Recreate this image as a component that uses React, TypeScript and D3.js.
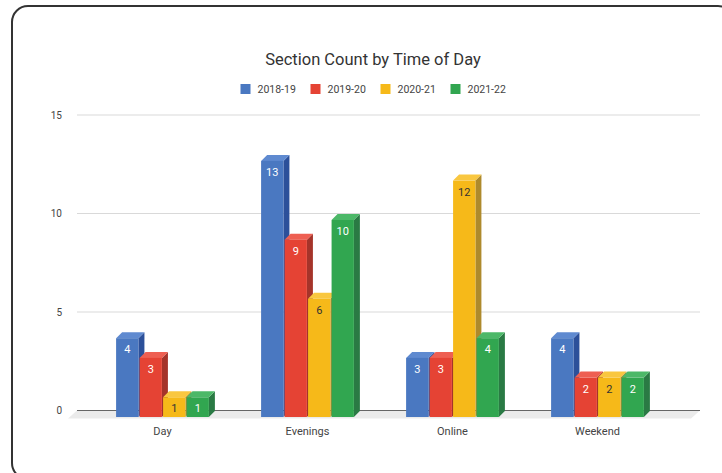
import React from "react";
import * as d3 from "d3";

const categories = ["Day", "Evenings", "Online", "Weekend"];
const seriesNames = ["2018-19", "2019-20", "2020-21", "2021-22"];
const values2018 = [4, 13, 3, 4];
const values2019 = [3, 9, 3, 2];
const values2020 = [1, 6, 12, 2];
const values2021 = [1, 10, 4, 2];
const yTicks = [0, 5, 10, 15];

const seriesValues = [values2018, values2019, values2020, values2021];

// front / side / top shades per series
const palette = [
  { front: "#4a78c1", side: "#2c509a", top: "#5f8ad0", label: "#ffffff" },
  { front: "#e54334", side: "#a5342a", top: "#ee5f52", label: "#ffffff" },
  { front: "#f6b919", side: "#ae8a2c", top: "#f9c740", label: "#333333" },
  { front: "#31a650", side: "#2a7a44", top: "#4cb868", label: "#ffffff" },
];

const W = 722;
const H = 473;
const FONT = "Roboto, 'Liberation Sans', Arial, sans-serif";

// 3D geometry
const floorDx = 9;
const floorDy = 8;
const barDx = 6;
const barDy = 6;

const backX0 = 77;
const backX1 = 700;
const backBase = 410.5;
const frontBase = 417;

export default function App() {
  const y = d3.scaleLinear().domain([0, 15]).range([0, 15 * 19.7]);

  const x0 = d3
    .scaleBand<string>()
    .domain(categories)
    .range([backX0 - floorDx, backX1 - floorDx + 1])
    .paddingInner(0.36)
    .paddingOuter(0.3317);

  const x1 = d3
    .scaleBand<string>()
    .domain(seriesNames)
    .range([0, x0.bandwidth()])
    .paddingInner(0.05);

  const legendItemW = 70;
  const legendStart = 373 - (legendItemW * 4 - 15) / 2;

  return (
    <svg
      width={W}
      height={H}
      style={{ position: "absolute", left: 0, top: 0, background: "#ffffff" }}
      fontFamily={FONT}
    >
      <rect
        x={12}
        y={6}
        width={722}
        height={473}
        rx={16}
        ry={16}
        fill="#ffffff"
        stroke="#333333"
        strokeWidth={2}
      />

      <text x={373} y={65} textAnchor="middle" fontSize={16.5} fill="#333333">
        Section Count by Time of Day
      </text>

      {seriesNames.map((name, i) => {
        const lx = legendStart + i * legendItemW;
        return (
          <g key={name}>
            <rect x={lx} y={84} width={10} height={10} fill={palette[i].front} />
            <text x={lx + 17} y={93} fontSize={10.5} fill="#444444">
              {name}
            </text>
          </g>
        );
      })}

      {/* gridlines along the back wall */}
      {yTicks.map((t) => (
        <g key={t}>
          {t > 0 && (
            <line
              x1={backX0}
              x2={backX1}
              y1={backBase - y(t)}
              y2={backBase - y(t)}
              stroke="#d9d9d9"
              strokeWidth={1}
            />
          )}
          <text
            x={62}
            y={backBase - y(t) + 3.5}
            textAnchor="end"
            fontSize={10}
            fill="#444444"
          >
            {t}
          </text>
        </g>
      ))}

      {/* floor */}
      <polygon
        points={`${backX0},${backBase} ${backX1},${backBase} ${backX1 - floorDx},${backBase + floorDy} ${backX0 - floorDx},${backBase + floorDy}`}
        fill="#ebebeb"
      />
      <line
        x1={backX0}
        x2={backX1}
        y1={backBase}
        y2={backBase}
        stroke="#666666"
        strokeWidth={1.2}
      />

      {categories.map((cat, ci) => {
        const gx = x0(cat) ?? 0;
        return (
          <g key={cat}>
            {seriesNames.map((s, si) => {
              const v = seriesValues[si][ci];
              const bx = gx + (x1(s) ?? 0);
              const bw = x1.bandwidth();
              const top = frontBase - y(v);
              const c = palette[si];
              return (
                <g key={s}>
                  <polygon
                    points={`${bx + bw},${top} ${bx + bw + barDx},${top - barDy} ${bx + bw + barDx},${frontBase - barDy} ${bx + bw},${frontBase}`}
                    fill={c.side}
                  />
                  <polygon
                    points={`${bx},${top} ${bx + barDx},${top - barDy} ${bx + bw + barDx},${top - barDy} ${bx + bw},${top}`}
                    fill={c.top}
                  />
                  <rect x={bx} y={top} width={bw} height={y(v)} fill={c.front} />
                  <text
                    x={bx + bw / 2}
                    y={top + 15}
                    textAnchor="middle"
                    fontSize={11}
                    fill={c.label}
                  >
                    {v}
                  </text>
                </g>
              );
            })}
            <text
              x={gx + x0.bandwidth() / 2}
              y={435}
              textAnchor="middle"
              fontSize={11}
              fill="#444444"
            >
              {cat}
            </text>
          </g>
        );
      })}
    </svg>
  );
}
